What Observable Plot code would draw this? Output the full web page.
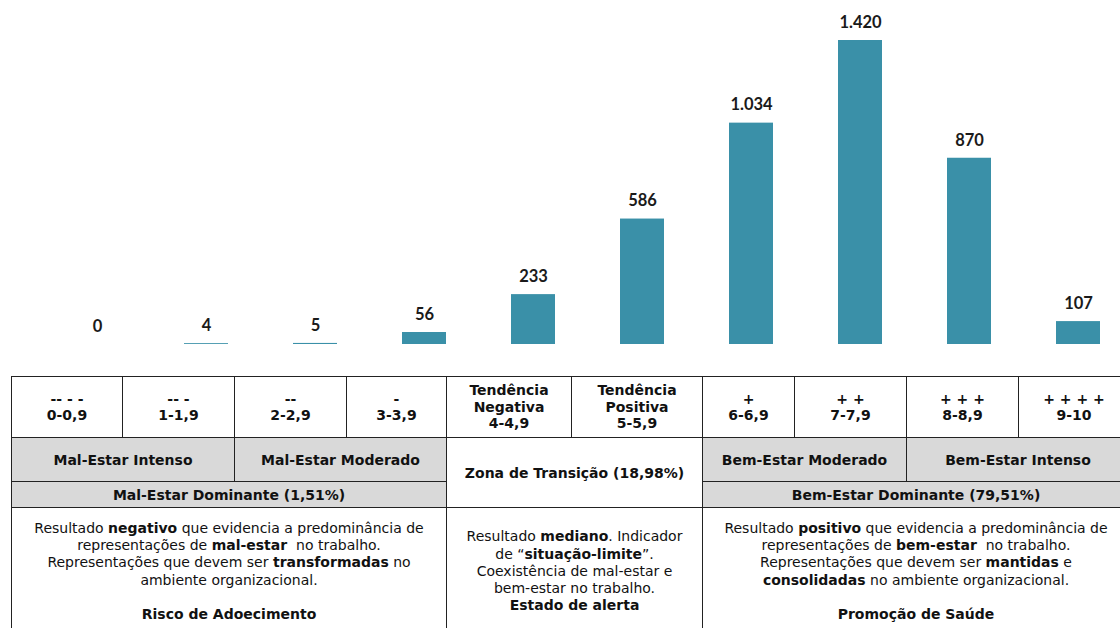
<!DOCTYPE html>
<html>
<head>
<meta charset="utf-8">
<script src="https://cdn.jsdelivr.net/npm/d3@7"></script>
<script src="https://cdn.jsdelivr.net/npm/@observablehq/plot@0.6"></script>
<style>
  html, body { margin: 0; padding: 0; background: #fff; width: 1120px; height: 628px; overflow: hidden; }
  #chart { position: absolute; left: 0; top: 0; }
  #tbl { position: absolute; left: 11px; top: 376px; border-collapse: collapse; table-layout: fixed; width: 1118px;
         font-family: "DejaVu Sans", Verdana, sans-serif; color: #111; }
  #tbl td { border: 1px solid #222; text-align: center; vertical-align: middle; padding: 0; }
  #tbl .h { font-weight: bold; font-size: 14px; line-height: 16.5px; height: 60px; }
  #tbl .g { background: #d9d9d9; font-weight: bold; font-size: 14px; }
  #tbl .z { background: #fff; font-weight: bold; font-size: 14px; }
  #tbl .d { font-size: 14px; line-height: 17.3px; height: 127px; }
</style>
</head>
<body>
<div id="chart"></div>
<table id="tbl"></table>
<script>
// ---- data ----
const categories = ["0-0,9", "1-1,9", "2-2,9", "3-3,9", "4-4,9", "5-5,9", "6-6,9", "7-7,9", "8-8,9", "9-10"];
const values = [0, 4, 5, 56, 233, 586, 1034, 1420, 870, 107];
const symbols = ["-- - -", "-- -", "--", "-", "Tendência<br>Negativa", "Tendência<br>Positiva", "+", "+ +", "+ + +", "+ + + +"];
const colWidths = [111, 112, 112, 100, 125, 131, 92, 112, 112, 111];
const levels = ["Mal-Estar Intenso", "Mal-Estar Moderado", "Zona de Transição (18,98%)", "Bem-Estar Moderado", "Bem-Estar Intenso"];
const dominants = ["Mal-Estar Dominante (1,51%)", "Bem-Estar Dominante (79,51%)"];
const descriptions = [
  "Resultado <b>negativo</b> que evidencia a predominância de<br>representações de <b>mal-estar</b>&nbsp; no trabalho.<br>Representações que devem ser <b>transformadas</b> no<br>ambiente organizacional.<br><br><b>Risco de Adoecimento</b>",
  "Resultado <b>mediano</b>. Indicador<br>de “<b>situação-limite</b>”.<br>Coexistência de mal-estar e<br>bem-estar no trabalho.<br><b>Estado de alerta</b>",
  "Resultado <b>positivo</b> que evidencia a predominância de<br>representações de <b>bem-estar</b>&nbsp; no trabalho.<br>Representações que devem ser <b>mantidas</b> e<br><b>consolidadas</b> no ambiente organizacional.<br><br><b>Promoção de Saúde</b>"
];

const data = categories.map((c, i) => ({category: c, value: values[i]}));
const fmt = d3.formatLocale({decimal: ",", thousands: ".", grouping: [3], currency: ["R$", ""]}).format(",");

const chart = Plot.plot({
  width: 1120,
  height: 360,
  marginTop: 40,
  marginBottom: 16,
  marginLeft: 75,
  marginRight: 20,
  x: {domain: categories, paddingInner: 0.6, paddingOuter: 0, axis: null},
  y: {domain: [0, 1420], axis: null},
  marks: [
    Plot.barY(data, {x: "category", y: "value", fill: "#3a90a8"}),
    Plot.text(data, {x: "category", y: "value", text: d => fmt(d.value), dy: -18,
      fontSize: 16.5, fontWeight: "bold", fill: "#1a1a1a", fontFamily: "Lato, 'Noto Sans', sans-serif"})
  ]
});
document.getElementById("chart").appendChild(chart);

// ---- table ----
let html = "<colgroup>" + colWidths.map(w => `<col style="width:${w}px">`).join("") + "</colgroup>";
html += "<tr>" + categories.map((c, i) => `<td class="h">${symbols[i]}<br>${c}</td>`).join("") + "</tr>";
html += `<tr style="height:44px"><td class="g" colspan="2">${levels[0]}</td><td class="g" colspan="2">${levels[1]}</td>` +
        `<td class="z" colspan="2" rowspan="2">${levels[2]}</td>` +
        `<td class="g" colspan="2">${levels[3]}</td><td class="g" colspan="2">${levels[4]}</td></tr>`;
html += `<tr style="height:26px"><td class="g" colspan="4">${dominants[0]}</td><td class="g" colspan="4">${dominants[1]}</td></tr>`;
html += `<tr><td class="d" colspan="4">${descriptions[0]}</td><td class="d" colspan="2">${descriptions[1]}</td><td class="d" colspan="4">${descriptions[2]}</td></tr>`;
document.getElementById("tbl").innerHTML = html;
</script>
</body>
</html>
